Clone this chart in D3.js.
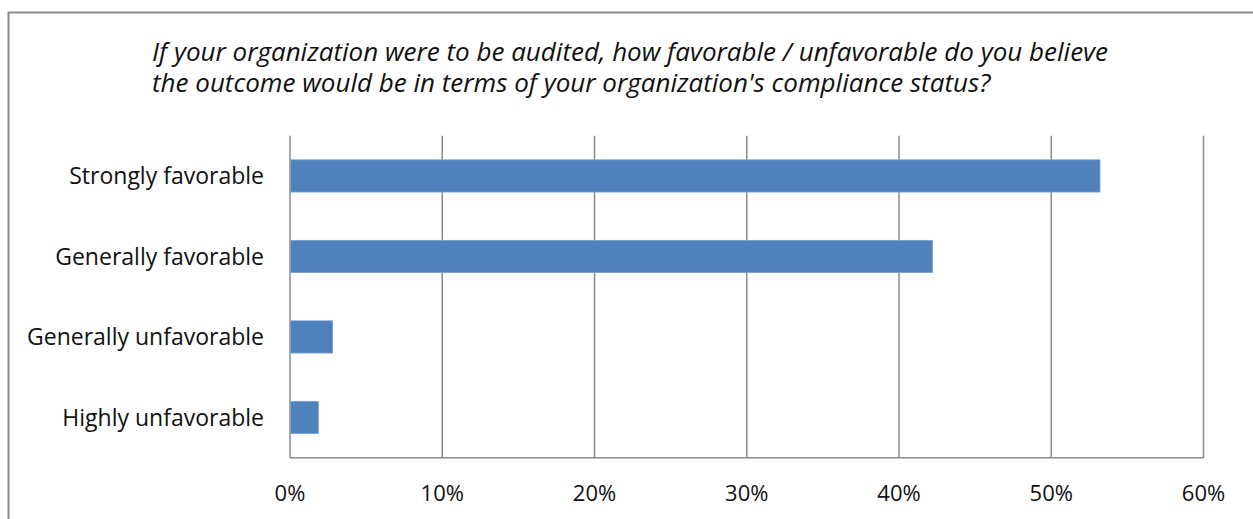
<!DOCTYPE html>
<html>
<head>
<meta charset="utf-8">
<script src="https://cdn.jsdelivr.net/npm/d3@7"></script>
<style>
  body { margin: 0; background: #fff; }
  svg { display: block; font-family: "Open Sans", sans-serif; }
</style>
</head>
<body>
<div id="chart"></div>
<script>
// Data
const categories = ["Strongly favorable", "Generally favorable", "Generally unfavorable", "Highly unfavorable"];
const values = [0.532, 0.422, 0.028, 0.0186];
const tickValues = [0, 0.1, 0.2, 0.3, 0.4, 0.5, 0.6];
const titleLines = [
  "If your organization were to be audited, how favorable / unfavorable do you believe",
  "the outcome would be in terms of your organization's compliance status?"
];

const W = 1253, H = 519;
const plot = { left: 290, right: 1203.5, top: 135.7, bottom: 457.7 };

const svg = d3.select("#chart")
  .append("svg")
    .attr("width", W)
    .attr("height", H);

// Outer chart border (extends past the right / bottom edge of the picture)
svg.append("rect")
  .attr("x", 8.5).attr("y", 12.5)
  .attr("width", W + 20).attr("height", H + 20)
  .attr("fill", "none")
  .attr("stroke", "#8a8a8a")
  .attr("stroke-width", 2);

// Title
svg.append("text")
  .style("font-style", "italic")
  .style("font-size", "26px")
  .attr("fill", "#111")
  .selectAll("tspan")
  .data(titleLines)
  .join("tspan")
    .attr("x", 152)
    .attr("y", (d, i) => 61 + i * 31)
    .text(d => d);

// Scales
const x = d3.scaleLinear()
  .domain([0, 0.6])
  .range([plot.left, plot.right]);

const y = d3.scaleBand()
  .domain(categories)
  .range([plot.top, plot.bottom])
  .paddingInner(0.6)
  .paddingOuter(0.3);

// Vertical gridlines
svg.append("g")
  .selectAll("line")
  .data(tickValues)
  .join("line")
    .attr("x1", d => x(d)).attr("x2", d => x(d))
    .attr("y1", plot.top).attr("y2", plot.bottom)
    .attr("stroke", "#8c8c8c")
    .attr("stroke-width", 1.5);

// Bottom axis line
svg.append("line")
  .attr("x1", plot.left).attr("x2", plot.right)
  .attr("y1", plot.bottom).attr("y2", plot.bottom)
  .attr("stroke", "#8c8c8c")
  .attr("stroke-width", 1.5);

// Bars
svg.append("g")
  .selectAll("rect")
  .data(categories.map((c, i) => ({ cat: c, value: values[i] })))
  .join("rect")
    .attr("x", x(0) + 0.75)
    .attr("y", d => y(d.cat))
    .attr("width", d => x(d.value) - x(0) - 0.75)
    .attr("height", y.bandwidth())
    .attr("fill", "#4f81bd")
    .attr("stroke", "#7aa0cf")
    .attr("stroke-width", 0.8);

// Category labels
svg.append("g")
  .selectAll("text")
  .data(categories)
  .join("text")
    .attr("x", 264)
    .attr("y", d => y(d) + y.bandwidth() / 2)
    .attr("dy", "0.36em")
    .attr("text-anchor", "end")
    .style("font-size", "23px")
    .attr("fill", "#111")
    .text(d => d);

// X tick labels
svg.append("g")
  .selectAll("text")
  .data(tickValues)
  .join("text")
    .attr("x", d => x(d))
    .attr("y", 501)
    .attr("text-anchor", "middle")
    .style("font-size", "22px")
    .attr("fill", "#111")
    .text(d3.format(".0%"));
</script>
</body>
</html>
